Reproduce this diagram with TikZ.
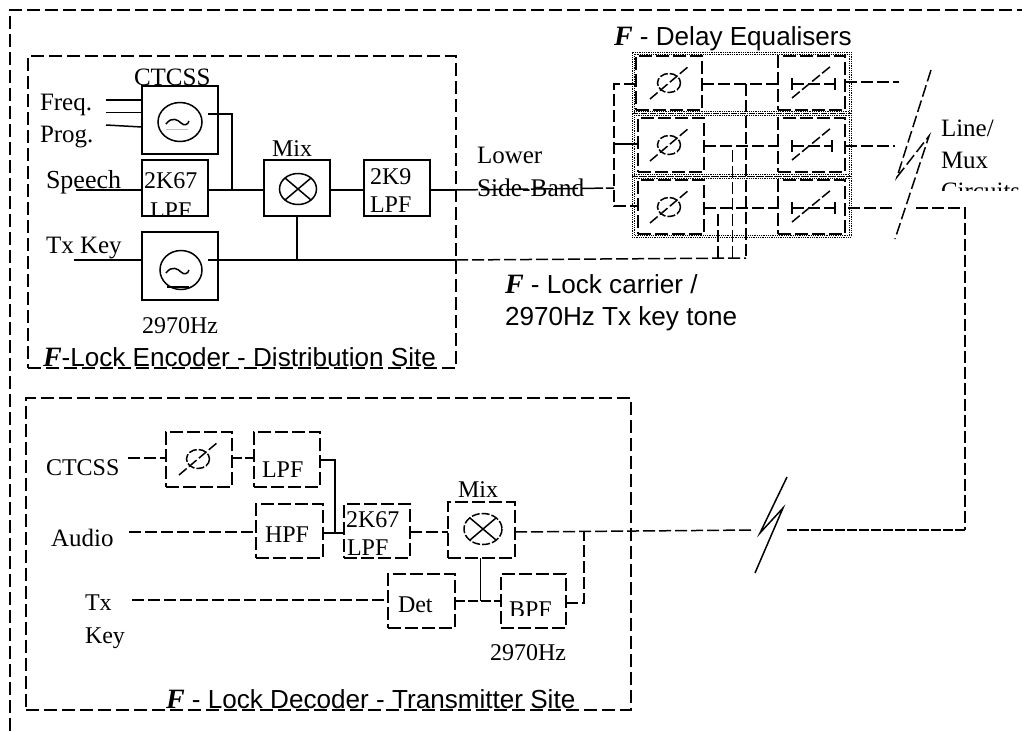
\documentclass[tikz,border=0pt]{standalone}
\usepackage{fontspec}
\setmainfont{Liberation Serif}
\newfontfamily\arialf{Liberation Sans}
\usetikzlibrary{calc}
\tikzset{
 x=1pt,y=-1pt,
 solidbox/.style={draw,line width=1.5pt,rectangle,inner sep=0pt,outer sep=0pt,minimum width=#1},
 dbox/.style={draw,line width=1.5pt,rectangle,inner sep=0pt,outer sep=0pt,dash pattern=on 13pt off 4pt},
 wire/.style={line width=1.5pt},
 dwire/.style={line width=1.5pt,dash pattern=on 12pt off 4pt},
 frame/.style={draw,line width=1.5pt,rectangle,inner sep=0pt,outer sep=0pt,dash pattern=on 13pt off 5pt},
 eqrow/.style={draw,line width=1pt,rectangle,inner sep=0pt,outer sep=0pt,dash pattern=on 1pt off .8pt},
 lab/.style={anchor=base west,inner sep=0pt,outer sep=0pt,font=\fontsize{25}{25}\selectfont},
 labs/.style={anchor=base west,inner sep=0pt,outer sep=0pt,font=\fontsize{24}{24}\selectfont},
 sanslab/.style={anchor=base west,inner sep=0pt,outer sep=0pt,font=\arialf\fontsize{26.1}{26}\selectfont},
}
\newcommand{\fF}{{\rmfamily\fontsize{28}{28}\selectfont\textbf{\textit{F}}}}
% box by corners: name, x1,y1,x2,y2, style
\newcommand{\boxat}[6]{\node[#6,minimum width=#4pt-#2pt,minimum height=#5pt-#3pt] (#1) at ({(#2+#4)/2},{(#3+#5)/2}) {};}
\newcommand{\phasesym}[2]{%
 \draw[dwire,dash pattern=on 8pt off 2pt] (#1,#2) ellipse [x radius=11.5,y radius=9.5];
 \draw[dwire,dash pattern=on 10pt off 3pt] ({#1-19},{#2+16}) -- ({#1+20},{#2-17});}
\newcommand{\eqsym}[3]{%
 \draw[wire] (#1,{#2-6}) -- (#1,{#2+6});
 \draw[wire] (#3,{#2-6}) -- (#3,{#2+6});
 \draw[dwire] (#1,#2) -- (#3,#2);
 \draw[dwire,dash pattern=on 10pt off 3pt] (#1,{#2+14}) -- ({#1+39},{#2-18});}
\begin{document}
\begin{tikzpicture}
\useasboundingbox (0,0) rectangle (1022,731);
% outer frame
\coordinate (ob) at (10,731); \coordinate (otl) at (10,10); \coordinate (otr) at (1022,10);
\draw[dwire,dash pattern=on 13pt off 5pt] (ob) -- (otl) -- (otr);
% site frames
\boxat{enc}{28}{56}{456}{368}{frame}
\boxat{dec}{26}{398}{631}{710}{frame}
% encoder boxes
\boxat{ctcss}{142}{86}{218}{154}{solidbox=0pt}
\boxat{lpfa}{142}{160}{208}{216}{solidbox=0pt}
\boxat{mixa}{264}{160}{330}{216}{solidbox=0pt}
\boxat{lpfb}{364}{160}{430}{216}{solidbox=0pt}
\boxat{tone}{142}{232}{218}{300}{solidbox=0pt}
% oscillators
\draw[wire] (180,122) ellipse [x radius=22,y radius=19.5];
\draw[wire] (166,124) .. controls (172,116) and (178,120) .. (181,123) .. controls (184,126) and (188,125) .. (189,121);
\draw[line width=.5pt,gray!50] (166,129) -- (188,129);
\draw[wire] (181,270) ellipse [x radius=21,y radius=19.5];
\draw[wire] (166,273) .. controls (172,265) and (178,269) .. (181,272) .. controls (184,275) and (188,274) .. (189,270);
\draw[wire] (167,287) -- (189,287);
% mixer a
\draw[wire] (298,189) ellipse [x radius=18.5,y radius=15.5];
\draw[wire] (285,178) -- (311,200) (285,200) -- (311,178);
% encoder wires
\coordinate (sp) at (76,190); \coordinate (fa) at (106,100); \coordinate (fb) at (106,112.5); \coordinate (fc) at (106,125);
\draw[wire] (fa) -- (fa -| ctcss.west);
\draw[wire] (fb) -- (fb -| ctcss.west);
\draw[wire] (fc) -- (142,127);
\draw[wire] (sp) -- (sp -| lpfa.west);
\coordinate (ctout) at (208,114); \coordinate (ctj) at (232,190);
\draw[wire] (ctout) -| (ctj);
\draw[wire] (lpfa.east |- ctj) -- (mixa.west |- ctj);
\draw[wire] (mixa.east |- ctj) -- (lpfb.west |- ctj);
\coordinate (lsbm) at (enc.east |- ctj);
\coordinate (fd) at (614,188);
\draw[wire] (lpfb.east |- ctj) -- (lsbm);
\draw[dwire,dash pattern=on 22pt off 3pt] (lsbm) -- (fd);
\coordinate (tx) at (74,260); \coordinate (toneo) at (208,260); \coordinate (txm) at (enc.east |- tx);
\draw[wire] (tx) -- (tx -| tone.west);
\draw[wire] (toneo) -- (txm);
\draw[wire] (mixa.south) -- (mixa.south |- tx);
% equaliser rows
\boxat{rowa}{632}{52}{851}{113}{eqrow}
\boxat{rowb}{632}{113}{851}{176}{eqrow}
\boxat{rowc}{632}{176}{851}{237}{eqrow}
\draw[eqrow] (634,54) rectangle (849,235);
\draw[eqrow] (634,115) -- (849,115) (634,174) -- (849,174) (634,111) -- (849,111) (634,178) -- (849,178);
\boxat{pa}{636}{56}{702}{110}{dbox}
\boxat{pb}{638}{118}{704}{172}{dbox}
\boxat{pc}{638}{180}{704}{234}{dbox}
\boxat{ea}{778}{56}{845}{110}{dbox}
\boxat{eb}{778}{118}{845}{172}{dbox}
\boxat{ec}{778}{180}{845}{234}{dbox}
\phasesym{669}{83}
\phasesym{669}{145}
\phasesym{669}{207}
\eqsym{792}{84}{835}
\eqsym{792}{146}{832}
\eqsym{792}{208}{835}
% equaliser wires
\coordinate (fta) at (614,84); \coordinate (ftb) at (614,144); \coordinate (ftc) at (614,206);
\draw[dwire] (pa.west |- fta) -- (fta) -- (ftc) -- (pc.west |- ftc);
\draw[wire] (ftb) -- (pb.west |- ftb);
\coordinate (ra) at (746,84); \coordinate (rb) at (732.5,146); \coordinate (rc) at (718,208);
\coordinate (bus) at (746,258);
\draw[dwire] (pa.east |- ra) -- (ea.west |- ra);
\draw[dwire] (pb.east |- rb) -- (eb.west |- rb);
\draw[dwire] (pc.east |- rc) -- (ec.west |- rc);
\draw[dwire] (ra) -- (bus);
\draw[dwire] (732.5,150) -- (bus -| rb);
\draw[dwire] (718,214) -- (bus -| rc);
\draw[dwire] (txm) -- (bus);
% outputs and break
\coordinate (oa) at (899,82); \coordinate (ob2) at (895,146); \coordinate (oc) at (893,208);
\draw[dwire] (ea.east |- oa) -- (oa);
\draw[dwire] (eb.east |- ob2) -- (ob2);
\draw[dwire] (848,208) -- (oc);
\coordinate (za) at (931,70); \coordinate (zb) at (897,177); \coordinate (zc) at (929,136); \coordinate (zd) at (895,239);
\draw[dwire] (za) -- (zb) -- (zc) -- (zd);
% return line
\coordinate (rt) at (916,208); \coordinate (rr) at (965,530); \coordinate (rl) at (786,530);
\draw[dwire] (rt) -| (rr);
\draw[line width=1.5pt,dash pattern=on 10pt off 2pt] (rr) -- (rl);
% decoder boxes
\boxat{dp}{166}{432}{232}{487}{dbox}
\boxat{dl}{254}{432}{320}{487}{dbox}
\boxat{dh}{256}{504}{323}{558}{dbox}
\boxat{dk}{344}{504}{410}{558}{dbox}
\boxat{dm}{448}{502}{515}{558}{dbox}
\boxat{dd}{388}{574}{455}{628}{dbox}
\boxat{db}{501}{574}{566}{628}{dbox}
\phasesym{198}{459}
\draw[dwire,dash pattern=on 8pt off 2pt] (483,529) ellipse [x radius=19,y radius=15.5];
\draw[wire] (470,518) -- (496,540) (470,540) -- (496,518);
\coordinate (ci) at (128,458); \coordinate (au) at (129,532); \coordinate (ti) at (132,600);
\draw[dwire] (ci) -- (dp.west |- ci);
\draw[dwire,dash pattern=on 10pt off 3pt] (dp.east |- ci) -- (dl.west |- ci);
\coordinate (lj) at (335,533);
\draw[wire] (320,460) -| (lj) -- (lj -| dk.west);
\draw[dwire] (au) -- (dh.west |- au);
\draw[wire] (dh.east |- lj) -- (lj);
\draw[dwire] (dk.east |- au) -- (dm.west |- au);
\coordinate (mo) at (584,532); \coordinate (bo) at (584,603);
\draw[dwire] (ti) -- (dd.west |- ti);
\coordinate (mj) at (480.5,601);
\draw[dwire,dash pattern=on 10pt off 3pt] (dd.east |- mj) -- (mj);
\draw[dwire,dash pattern=on 10pt off 3pt] (mj) -- (db.west |- mj);
\draw[wire] (mj) -- (mj |- dm.south);
\draw[dwire] (db.east |- bo) -| (mo);
\coordinate (dout) at (755,530);
\draw[dwire] (dm.east |- mo) -- (dout);
\coordinate (la) at (787,477); \coordinate (lb) at (755,573);
\draw[wire] (la) -- (760,533) -- (783,508) -- (lb);
% texts
\node[lab] (t1) at (40,110) {Freq.};
\node[lab] (t2) at (40,142) {Prog.};
\node[lab,font=\fontsize{26}{26}\selectfont] (t3) at (46,188) {Speech};
\node[lab] (t4) at (46,253) {Tx Key};
\node[lab] (t5) at (134,85) {CTCSS};
\node[labs] (t6) at (272,156) {Mix};
\node[labs] (t7) at (144,188) {2K67};
\begin{scope}\clip (143,160) rectangle (207,215.5);
\node[labs] (t8) at (150,218) {LPF};
\end{scope}
\node[labs] (t9) at (370,184) {2K9};
\node[labs] (t10) at (370,212) {LPF};
\node[labs] (t11) at (142,333) {2970Hz};
\node[sanslab] (t12) at (43,366) {\fF-Lock Encoder - Distribution Site};
\node[lab] (t13) at (477,163) {Lower};
\node[lab,font=\fontsize{25.4}{25}\selectfont] (t14) at (477,196) {Side-Band};
\node[sanslab] (t15) at (614,45) {\fF\ - Delay Equalisers};
\node[sanslab] (t16) at (505,293) {\fF\ - Lock carrier /};
\node[sanslab] (t17) at (505,325) {2970Hz Tx key tone};
\node[lab] (t18) at (941,136) {Line/};
\node[lab] (t19) at (941,168) {Mux};
\begin{scope}\clip (930,175) rectangle (1022,190.7);
\node[lab] (t20) at (941,199) {Circuits};
\end{scope}
\node[labs] (t21) at (46,475) {CTCSS};
\node[lab] (t22) at (51,546) {Audio};
\node[labs] (t23) at (85,610) {Tx};
\node[labs] (t24) at (85,643) {Key};
\node[labs] (t25) at (262,477) {LPF};
\node[labs] (t26) at (265,542) {HPF};
\node[labs] (t27) at (346,527) {2K67};
\node[labs] (t28) at (347,555) {LPF};
\node[labs] (t29) at (458,497) {Mix};
\node[labs] (t30) at (398,612) {Det};
\begin{scope}\clip (505,590) rectangle (560,615);
\node[labs] (t31) at (509,617) {BPF};
\end{scope}
\node[labs] (t32) at (490,660) {2970Hz};
\node[sanslab] (t33) at (166,708) {\fF\ - Lock Decoder - Transmitter Site};
\end{tikzpicture}
\end{document}
